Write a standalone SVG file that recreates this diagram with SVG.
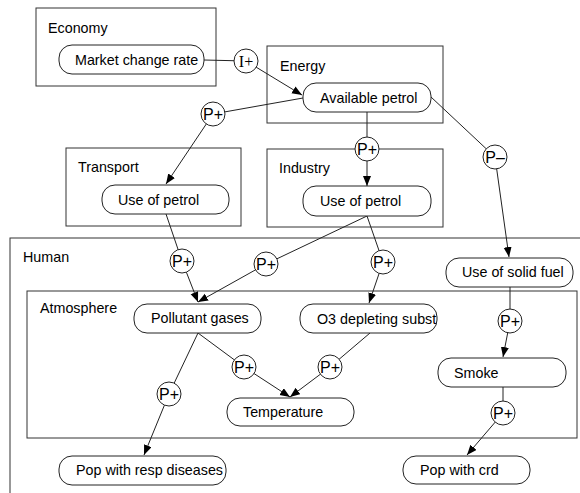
<svg xmlns="http://www.w3.org/2000/svg" width="580" height="493" viewBox="0 0 580 493">
<style>
.box{fill:none;stroke:#333;stroke-width:1}
.node{fill:#fff;stroke:#222;stroke-width:1}
.lbl{font-family:"Liberation Sans",Arial,sans-serif;font-size:14.3px;fill:#000}
.c{fill:#fff;stroke:#222;stroke-width:1}
.ct{font-family:"Liberation Sans",Arial,sans-serif;font-size:16px;fill:#000;text-anchor:middle}
.cs{font-family:"Liberation Serif","Times New Roman",serif;font-size:16px;fill:#000;text-anchor:middle}
.e{fill:none;stroke:#222;stroke-width:1}
.a{fill:none;stroke:#222;stroke-width:1;marker-end:url(#arr)}
</style>
<defs>
<marker id="arr" markerUnits="userSpaceOnUse" markerWidth="11" markerHeight="9" refX="10" refY="4" orient="auto">
<path d="M0,0 L10,4 L0,8 z" fill="#000"/>
</marker>
</defs>
<rect width="580" height="493" fill="#fff"/>

<g id="containers">
<g id="economy"><rect class="box" x="36" y="8" width="180" height="78"/><text class="lbl" x="48" y="33">Economy</text></g>
<g id="energy"><rect class="box" x="267" y="46" width="176" height="77"/><text class="lbl" x="280" y="71">Energy</text></g>
<g id="transport"><rect class="box" x="66" y="148" width="175" height="78"/><text class="lbl" x="78" y="172">Transport</text></g>
<g id="industry"><rect class="box" x="267" y="149" width="176" height="78"/><text class="lbl" x="279" y="173">Industry</text></g>
<g id="human"><rect class="box" x="10" y="238" width="590" height="280"/><text class="lbl" x="23" y="262">Human</text></g>
<g id="atmosphere"><rect class="box" x="27" y="291" width="550" height="147"/><text class="lbl" x="40" y="313">Atmosphere</text></g>
</g>

<g id="connectors">
<line class="e" x1="204" y1="60" x2="246" y2="61"/>
<line class="a" x1="246" y1="61" x2="302" y2="95"/>
<line class="e" x1="303" y1="98" x2="213" y2="114"/>
<line class="a" x1="213" y1="114" x2="166" y2="184"/>
<line class="e" x1="367" y1="112" x2="367" y2="149"/>
<line class="a" x1="367" y1="149" x2="367" y2="186"/>
<line class="e" x1="431" y1="97" x2="495" y2="157"/>
<line class="a" x1="495" y1="157" x2="509" y2="257"/>
<line class="e" x1="166" y1="214" x2="182" y2="261"/>
<line class="a" x1="182" y1="261" x2="198" y2="302"/>
<line class="e" x1="367" y1="216" x2="266" y2="264"/>
<line class="a" x1="266" y1="264" x2="198" y2="302"/>
<line class="e" x1="367" y1="216" x2="383" y2="262"/>
<line class="a" x1="383" y1="262" x2="369" y2="303"/>
<line class="e" x1="510" y1="287" x2="510" y2="321"/>
<line class="a" x1="510" y1="321" x2="503" y2="357"/>
<line class="e" x1="198" y1="333" x2="169" y2="394"/>
<line class="a" x1="169" y1="394" x2="144" y2="455"/>
<line class="e" x1="198" y1="333" x2="244" y2="367"/>
<line class="a" x1="244" y1="367" x2="290" y2="397"/>
<line class="e" x1="370" y1="333" x2="330" y2="367"/>
<line class="a" x1="330" y1="367" x2="290" y2="397"/>
<line class="e" x1="503" y1="387" x2="503" y2="413"/>
<line class="a" x1="503" y1="413" x2="467" y2="455"/>
</g>

<g id="signs">
<g id="s1"><circle class="c" cx="246" cy="61" r="12"/><text class="cs" x="246" y="67">I+</text></g>
<g id="s2"><circle class="c" cx="213" cy="114" r="12"/><text class="ct" x="213" y="120">P+</text></g>
<g id="s3"><circle class="c" cx="367" cy="149" r="12"/><text class="ct" x="367" y="155">P+</text></g>
<g id="s4"><circle class="c" cx="495" cy="157" r="12"/><text class="ct" x="495" y="163">P–</text></g>
<g id="s5"><circle class="c" cx="182" cy="261" r="12"/><text class="ct" x="182" y="267">P+</text></g>
<g id="s6"><circle class="c" cx="266" cy="264" r="12"/><text class="ct" x="266" y="270">P+</text></g>
<g id="s7"><circle class="c" cx="383" cy="262" r="12"/><text class="ct" x="383" y="268">P+</text></g>
<g id="s8"><circle class="c" cx="510" cy="321" r="12"/><text class="ct" x="510" y="327">P+</text></g>
<g id="s9"><circle class="c" cx="169" cy="394" r="12"/><text class="ct" x="169" y="400">P+</text></g>
<g id="s10"><circle class="c" cx="244" cy="367" r="12"/><text class="ct" x="244" y="373">P+</text></g>
<g id="s11"><circle class="c" cx="330" cy="367" r="12"/><text class="ct" x="330" y="373">P+</text></g>
<g id="s12"><circle class="c" cx="503" cy="413" r="12"/><text class="ct" x="503" y="419">P+</text></g>
</g>

<g id="nodes">
<g id="market"><rect class="node" x="59" y="45" width="145" height="29" rx="13"/><text class="lbl" x="75" y="65">Market change rate</text></g>
<g id="avail"><rect class="node" x="303" y="83" width="128" height="29" rx="13"/><text class="lbl" x="320" y="103">Available petrol</text></g>
<g id="usetrans"><rect class="node" x="102" y="185" width="127" height="29" rx="13"/><text class="lbl" x="118" y="205">Use of petrol</text></g>
<g id="useind"><rect class="node" x="303" y="186" width="128" height="30" rx="13"/><text class="lbl" x="320" y="206">Use of petrol</text></g>
<g id="solid"><rect class="node" x="446" y="258" width="127" height="29" rx="13"/><text class="lbl" x="462" y="277">Use of solid fuel</text></g>
<g id="pollut"><rect class="node" x="134" y="304" width="127" height="29" rx="13"/><text class="lbl" x="151" y="323">Pollutant gases</text></g>
<g id="o3"><rect class="node" x="300" y="304" width="137" height="29" rx="13"/><text class="lbl" x="317" y="324">O3 depleting subst</text></g>
<g id="smoke"><rect class="node" x="438" y="358" width="128" height="29" rx="13"/><text class="lbl" x="454" y="378">Smoke</text></g>
<g id="temp"><rect class="node" x="227" y="398" width="127" height="28" rx="13"/><text class="lbl" x="243" y="417">Temperature</text></g>
<g id="resp"><rect class="node" x="59" y="456" width="167" height="29" rx="13"/><text class="lbl" x="76" y="475">Pop with resp diseases</text></g>
<g id="crd"><rect class="node" x="403" y="456" width="127" height="28" rx="13"/><text class="lbl" x="420" y="475">Pop with crd</text></g>
</g>
</svg>
